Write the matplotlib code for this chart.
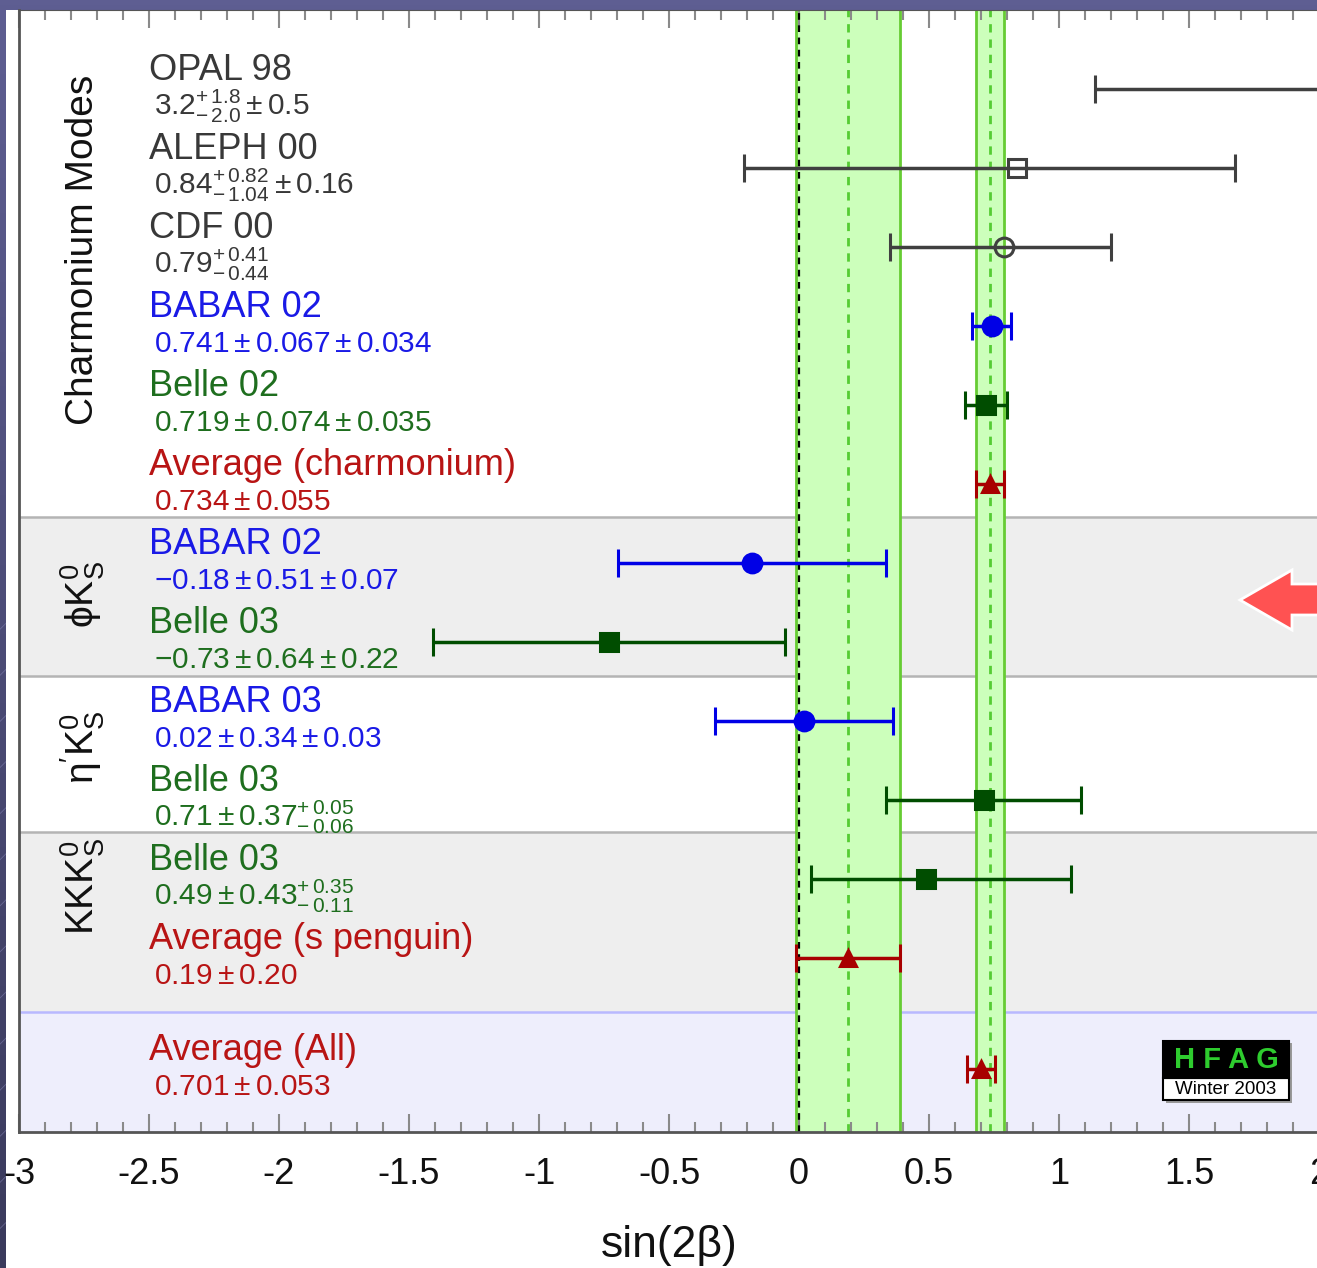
import matplotlib
matplotlib.use("Agg")
import numpy as np
import matplotlib.pyplot as plt
from matplotlib.patches import Rectangle, Polygon
from matplotlib.colors import LinearSegmentedColormap
from matplotlib.ticker import MultipleLocator, FuncFormatter

plt.rcParams['font.family'] = ['Liberation Sans', 'DejaVu Sans']
plt.rcParams['mathtext.fontset'] = 'custom'
plt.rcParams['mathtext.rm'] = 'Liberation Sans'
plt.rcParams['mathtext.it'] = 'Liberation Sans:italic'
plt.rcParams['mathtext.bf'] = 'Liberation Sans:bold'
plt.rcParams['mathtext.sf'] = 'Liberation Sans'
plt.rcParams['axes.unicode_minus'] = False

# ---------------- data ----------------
experiments = ["OPAL 98", "ALEPH 00", "CDF 00", "BABAR 02", "Belle 02",
               "Average (charmonium)", "BABAR 02", "Belle 03", "BABAR 03",
               "Belle 03", "Belle 03", "Average (s penguin)", "Average (All)"]
value_labels = [r"$3.2^{+\,1.8}_{-\,2.0}\pm0.5$",
                r"$0.84^{+\,0.82}_{-\,1.04}\pm0.16$",
                r"$0.79^{+\,0.41}_{-\,0.44}$",
                r"$0.741\pm0.067\pm0.034$",
                r"$0.719\pm0.074\pm0.035$",
                r"$0.734\pm0.055$",
                r"$-0.18\pm0.51\pm0.07$",
                r"$-0.73\pm0.64\pm0.22$",
                r"$0.02\pm0.34\pm0.03$",
                r"$0.71\pm0.37^{+\,0.05}_{-\,0.06}$",
                r"$0.49\pm0.43^{+\,0.35}_{-\,0.11}$",
                r"$0.19\pm0.20$",
                r"$0.701\pm0.053$"]
central    = [3.2, 0.84, 0.79, 0.741, 0.719, 0.734, -0.18, -0.73, 0.02, 0.71, 0.49, 0.19, 0.701]
stat_plus  = [1.8, 0.82, 0.41, 0.067, 0.074, 0.055, 0.51, 0.64, 0.34, 0.37, 0.43, 0.20, 0.053]
stat_minus = [2.0, 1.04, 0.44, 0.067, 0.074, 0.055, 0.51, 0.64, 0.34, 0.37, 0.43, 0.20, 0.053]
syst_plus  = [0.5, 0.16, 0.0, 0.034, 0.035, 0.0, 0.07, 0.22, 0.03, 0.05, 0.35, 0.0, 0.0]
syst_minus = [0.5, 0.16, 0.0, 0.034, 0.035, 0.0, 0.07, 0.22, 0.03, 0.06, 0.11, 0.0, 0.0]
kind = ["old", "old", "old", "babar", "belle", "avg", "babar", "belle",
        "babar", "belle", "belle", "avg", "avg"]
group_labels = ["Charmonium Modes", r"$\mathrm{\phi K^0_S}$",
                r"$\mathrm{\eta' K^0_S}$", r"$\mathrm{KKK^0_S}$"]
xticks_major = [-3, -2.5, -2, -1.5, -1, -0.5, 0, 0.5, 1, 1.5, 2]

# ---------------- layout / style ----------------
rows = [0, 1, 2, 3, 4, 5, 6, 7, 8, 9, 10, 11, 12.4]
group_y = [2.04, 6.4, 8.34, 10.09]
boundaries = [5.418, 7.430, 9.405, 11.684]
markers = ['^', 's', 'o', 'o', 's', '^', 'o', 's', 'o', 's', 's', '^', '^']
open_marker = [True, True, True] + [False] * 10
line_col = {"old": "#404040", "babar": "#0000e6", "belle": "#004d00", "avg": "#a80000"}
text_col = {"old": "#383838", "babar": "#1a1ae6", "belle": "#1e6e1e", "avg": "#b81414"}

W, H = 1317, 1268
fig = plt.figure(figsize=(W / 100, H / 100), dpi=100)

def fx(px):
    return px / W

def fy(py):
    return 1 - py / H

# slide background
bg = fig.add_axes([0, 0, 1, 1], zorder=-10)
bg.set_xlim(0, 1)
bg.set_ylim(0, 1)
cmap = LinearSegmentedColormap.from_list("bg", ["#5e5e92", "#3a3a5c"])
bg.imshow(np.linspace(0, 1, 256)[:, None], aspect='auto', cmap=cmap,
          extent=[0, 1, 0, 1], origin='upper')
for k in np.arange(-1.5, 1.0, 0.035):
    bg.plot([k, k + 0.5], [0, 0.5 * W / H], color="#8080b0", lw=0.6, alpha=0.6)
bg.add_patch(Rectangle((fx(6), 0), 1, fy(10), facecolor='white', edgecolor='none', zorder=5))
bg.axis('off')

ax = fig.add_axes([fx(19), fy(1132), 1300 / W, (1132 - 10) / H])
ax.set_xlim(-3, 2)
ax.set_ylim(13.203, -1.0)
ax.set_facecolor('none')

# shaded regions
ax.axhspan(boundaries[0], boundaries[1], color='#eeeeee', zorder=0, lw=0)
ax.axhspan(boundaries[2], boundaries[3], color='#eeeeee', zorder=0, lw=0)
ax.axhspan(boundaries[3], 13.203, color='#eeeefc', zorder=0, lw=0)
for b in boundaries[:3]:
    ax.axhline(b, color='#b4b4b4', lw=1.8, zorder=0.5)
ax.axhline(boundaries[3], color='#b8b8ff', lw=1.8, zorder=0.5)

# average bands
for idx in (11, 5):
    c, e = central[idx], stat_plus[idx]
    ax.axvspan(c - e, c + e, color='#ccffbb', zorder=1, lw=0)
    ax.axvline(c - e, color='#66cc33', lw=2, zorder=1.5)
    ax.axvline(c + e, color='#66cc33', lw=2, zorder=1.5)
    ax.axvline(c, color='#55cc33', lw=2, ls=(0, (3, 2.5)), zorder=1.5)
ax.axvline(0, color='black', lw=1.6, ls=(0, (3, 2.5)), zorder=2)

# points
for i in range(len(central)):
    lo = np.hypot(stat_minus[i], syst_minus[i])
    hi = np.hypot(stat_plus[i], syst_plus[i])
    col = line_col[kind[i]]
    ms = 13.5 if markers[i] != '^' else 12
    ax.errorbar(central[i], rows[i], xerr=[[lo], [hi]], fmt=markers[i], color=col,
                mfc='none' if open_marker[i] else col, mec=col, ms=ms, mew=2.2,
                elinewidth=2.5, capsize=10, capthick=3, zorder=5)
    tc = text_col[kind[i]]
    ax.text(-2.5, rows[i] - 0.114, experiments[i], color=tc, fontsize=26,
            va='baseline', ha='left', zorder=6)
    ax.text(-2.48, rows[i] + 0.33, value_labels[i], color=tc, fontsize=21.5,
            va='baseline', ha='left', zorder=6)

for lab, gy in zip(group_labels, group_y):
    ax.text(-2.755, gy, lab, rotation=90, fontsize=28, color='#111111',
            ha='center', va='center', zorder=6)

# axes styling
ax.set_xticks(xticks_major)
ax.xaxis.set_minor_locator(MultipleLocator(0.1))
ax.xaxis.set_major_formatter(FuncFormatter(lambda v, p: "%g" % v))
ax.set_yticks([])
ax.tick_params(axis='x', which='both', direction='in', top=True, bottom=True,
               color='#8a8a8a', width=1.5, labelsize=26, pad=18, labelcolor='#111111')
ax.tick_params(axis='x', which='major', length=13)
ax.tick_params(axis='x', which='minor', length=7)
for s in ('left', 'bottom'):
    ax.spines[s].set_color('#555555')
    ax.spines[s].set_linewidth(2)
ax.spines['top'].set_color('#555555')
ax.spines['right'].set_visible(False)
ax.set_xlabel('sin(2β)', fontsize=32, labelpad=24, color='#111111')

# HFAG logo
fig.patches.append(Rectangle((fx(1166), fy(1103)), fx(126), 60 / H, transform=fig.transFigure,
                             facecolor='#999999', edgecolor='none', zorder=7))
fig.patches.append(Rectangle((fx(1163), fy(1100)), fx(126), 22 / H, transform=fig.transFigure,
                             facecolor='white', edgecolor='black', lw=1.5, zorder=8))
fig.patches.append(Rectangle((fx(1163), fy(1078)), fx(126), 37 / H, transform=fig.transFigure,
                             facecolor='black', edgecolor='black', lw=1.5, zorder=8))
fig.text(fx(1226), fy(1060), 'H F A G', color='#2ecc2e', fontsize=21, fontweight='bold',
         ha='center', va='center', zorder=9)
fig.text(fx(1226), fy(1089), 'Winter 2003', color='black', fontsize=13.5,
         ha='center', va='center', zorder=9)

# red arrow
arrow_pts = [(1240, 600), (1292, 570), (1292, 584), (1330, 584), (1330, 615),
             (1292, 615), (1292, 630)]
fig.patches.append(Polygon([(fx(x), fy(y)) for x, y in arrow_pts], closed=True,
                           transform=fig.transFigure, facecolor='#ff5252',
                           edgecolor='white', lw=2, zorder=9))

fig.savefig('out.png', dpi=100)
